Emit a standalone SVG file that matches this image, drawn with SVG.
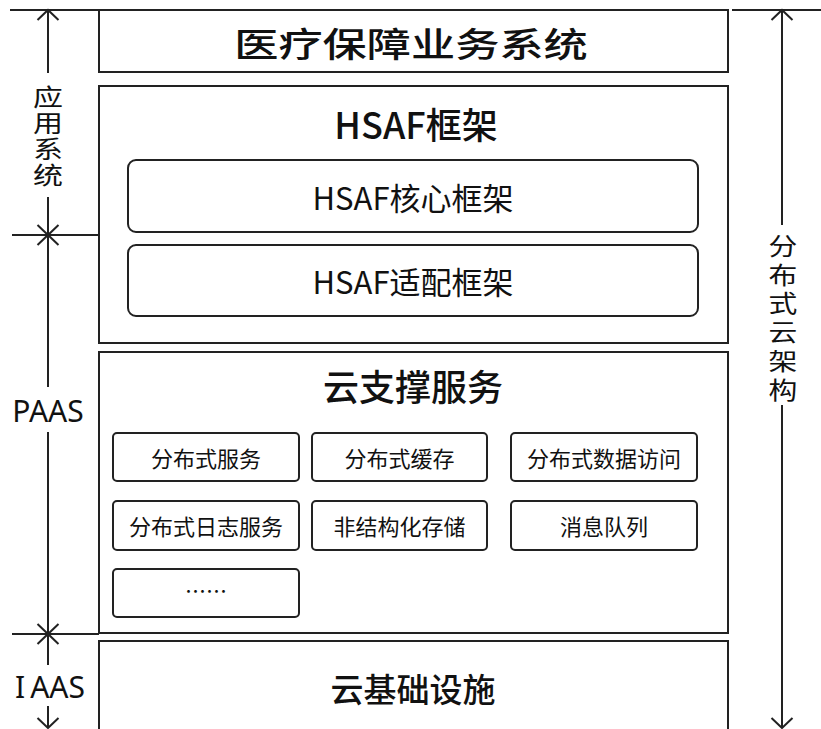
<svg xmlns="http://www.w3.org/2000/svg" width="821" height="729" viewBox="0 0 821 729">
<defs>
<style>
.box{fill:#fff;stroke:#222;stroke-width:2}
.ln{stroke:#222;stroke-width:2;fill:none}
.t{font-family:"Noto Sans CJK SC","Noto Sans",sans-serif;font-weight:400;fill:#111;text-anchor:middle;dominant-baseline:central}
.h{font-weight:500}
.v{writing-mode:vertical-rl;text-orientation:upright}
.lat{font-family:"Noto Sans","Noto Sans CJK SC",sans-serif;font-weight:400;fill:#111;text-anchor:middle;dominant-baseline:central}
</style>
<marker id="arr" viewBox="-12 -12 14 24" refX="0" refY="0" markerWidth="14" markerHeight="24" markerUnits="userSpaceOnUse" orient="auto-start-reverse">
<path d="M-10,-10.5 L0,0 L-10,10.5" fill="none" stroke="#222" stroke-width="2"/>
</marker>
</defs>
<rect width="821" height="729" fill="#fff"/>

<g id="connectors">
<line class="ln" x1="10" y1="10" x2="99" y2="10"/>
<line class="ln" x1="12" y1="235" x2="99" y2="235"/>
<line class="ln" x1="12" y1="634" x2="99" y2="634"/>
<line class="ln" x1="732" y1="10" x2="821" y2="10"/>
<line class="ln" x1="48" y1="10" x2="48" y2="73" marker-start="url(#arr)"/>
<line class="ln" x1="48" y1="197" x2="48" y2="235" marker-end="url(#arr)"/>
<line class="ln" x1="48" y1="235" x2="48" y2="387" marker-start="url(#arr)"/>
<line class="ln" x1="48" y1="432" x2="48" y2="634" marker-end="url(#arr)"/>
<line class="ln" x1="48" y1="634" x2="48" y2="665" marker-start="url(#arr)"/>
<line class="ln" x1="48" y1="706" x2="48" y2="728" marker-end="url(#arr)"/>
<line class="ln" x1="782" y1="10" x2="782" y2="225" marker-start="url(#arr)"/>
<line class="ln" x1="782" y1="405" x2="782" y2="728" marker-end="url(#arr)"/>
</g>

<g id="label-app">
<text class="t v" font-size="24" letter-spacing="2.3" transform="translate(48,0) scale(1.25,1)" x="0" y="137">应用系统</text>
</g>
<g id="label-paas"><text class="lat" x="48" y="410" font-size="30">PAAS</text></g>
<g id="label-iaas"><text class="lat" x="50" y="686" font-size="30">I<tspan dx="5">AAS</tspan></text></g>
<g id="label-cloud">
<text class="t v" font-size="24" letter-spacing="4.8" transform="translate(783,0) scale(1.2,1)" x="0" y="320">分布式云架构</text>
</g>

<g id="app-system">
<rect class="box" x="99" y="10" width="629" height="62"/>
<text class="t h" transform="translate(411,42) scale(1.3,1)" font-size="34">医疗保障业务系统</text>
</g>

<g id="hsaf">
<rect class="box" x="99" y="86" width="629" height="257"/>
<text class="t h" x="416" y="123" font-size="36">HSAF框架</text>
</g>
<g id="hsaf-core">
<rect class="box" x="128" y="160" width="570" height="72" rx="8"/>
<text class="t" x="413" y="196" font-size="31">HSAF核心框架</text>
</g>
<g id="hsaf-adapt">
<rect class="box" x="128" y="245" width="570" height="71" rx="8"/>
<text class="t" x="413" y="280" font-size="31">HSAF适配框架</text>
</g>

<g id="cloud-support">
<rect class="box" x="99" y="352" width="629" height="281"/>
<text class="t h" x="413" y="385" font-size="36">云支撑服务</text>
</g>
<g id="svc1"><rect class="box" x="113" y="433" width="186" height="48" rx="4"/><text class="t" x="206" y="457" font-size="22">分布式服务</text></g>
<g id="svc2"><rect class="box" x="312" y="433" width="175" height="48" rx="4"/><text class="t" x="399.500" y="457" font-size="22">分布式缓存</text></g>
<g id="svc3"><rect class="box" x="511" y="433" width="186" height="48" rx="4"/><text class="t" x="604" y="457" font-size="22">分布式数据访问</text></g>
<g id="svc4"><rect class="box" x="113" y="501" width="186" height="49" rx="4"/><text class="t" x="206" y="525" font-size="22">分布式日志服务</text></g>
<g id="svc5"><rect class="box" x="312" y="501" width="175" height="49" rx="4"/><text class="t" x="399.500" y="525" font-size="22">非结构化存储</text></g>
<g id="svc6"><rect class="box" x="511" y="501" width="186" height="49" rx="4"/><text class="t" x="604" y="525" font-size="22">消息队列</text></g>
<g id="svc7"><rect class="box" x="113" y="569" width="186" height="48" rx="4"/><text class="t" x="206" y="590" font-size="21" font-weight="bold">……</text></g>

<g id="infra">
<rect class="box" x="99" y="641" width="629" height="100"/>
<text class="t h" x="413" y="688" font-size="33">云基础设施</text>
</g>
</svg>
